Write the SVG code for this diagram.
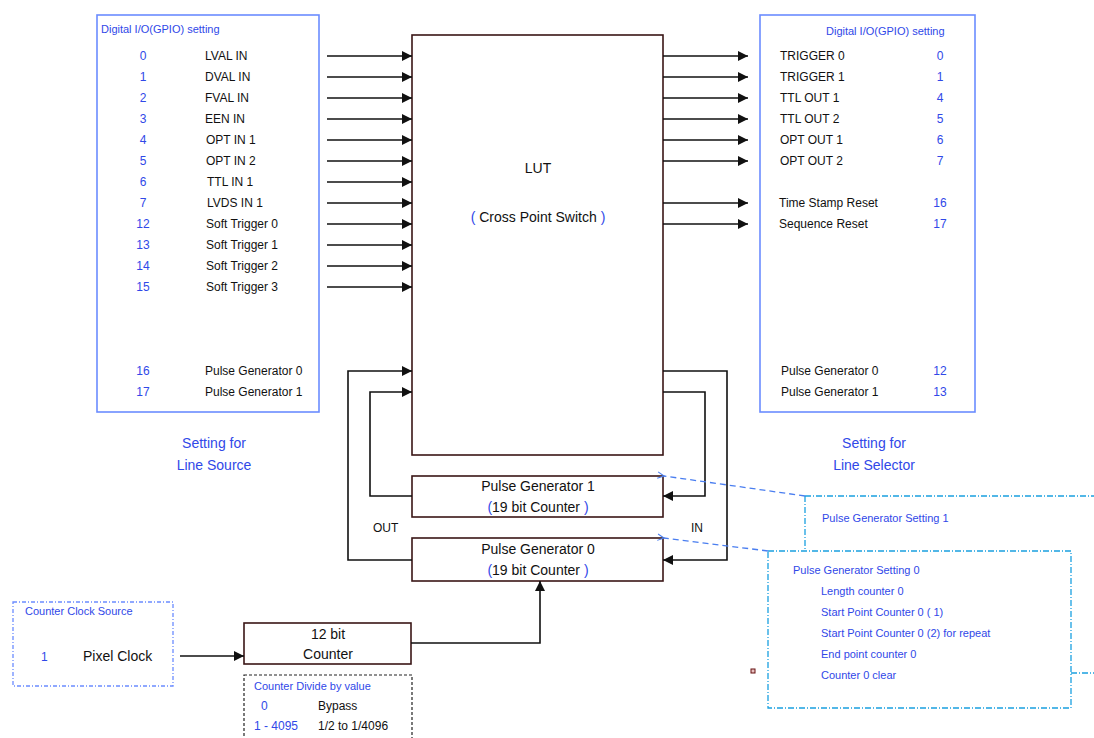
<svg xmlns="http://www.w3.org/2000/svg" width="1094" height="738" viewBox="0 0 1094 738">
<defs>
<style>
text{font-family:"Liberation Sans",Arial,sans-serif;}
.t{font-size:12px;fill:#111;}
.b{font-size:12px;fill:#3048e8;}
.bs{font-size:11px;fill:#3048e8;}
.c{text-anchor:middle;}
.lg{font-size:14px;fill:#3048e8;text-anchor:middle;}
.big{font-size:14px;fill:#111;text-anchor:middle;}
.blk{fill:#fff;stroke:#3a1616;stroke-width:1.6;}
.gp{fill:#fff;stroke:#6b8cff;stroke-width:1.6;}
.ln{fill:none;stroke:#111;stroke-width:1.6;}
.dd{fill:none;stroke:#1aa0e0;stroke-width:1.3;stroke-dasharray:6,2,1,2;}
.dsh{fill:none;stroke:#4a7ef0;stroke-width:1.3;stroke-dasharray:6,4;}
</style>
<marker id="ah" viewBox="0 0 10 10" refX="10" refY="5" markerWidth="15" markerHeight="10" markerUnits="userSpaceOnUse" orient="auto"><path d="M0,0 L10,5 L0,10 z" fill="#111"/></marker>
<marker id="oh" viewBox="0 0 10 10" refX="1" refY="5" markerWidth="8" markerHeight="8" markerUnits="userSpaceOnUse" orient="auto"><path d="M9,1 L1,5 L9,9" fill="none" stroke="#4a7ef0" stroke-width="1.3"/></marker>
</defs>
<rect width="1094" height="738" fill="#fff"/>

<g id="line-source">
<rect class="gp" x="97" y="15" width="222" height="397"/>
<text class="bs" x="101" y="33">Digital I/O(GPIO) setting</text>
<g class="b c">
<text x="143" y="60">0</text><text x="143" y="81">1</text><text x="143" y="102">2</text><text x="143" y="123">3</text>
<text x="143" y="144">4</text><text x="143" y="165">5</text><text x="143" y="186">6</text><text x="143" y="207">7</text>
<text x="143" y="228">12</text><text x="143" y="249">13</text><text x="143" y="270">14</text><text x="143" y="291">15</text>
<text x="143" y="375">16</text><text x="143" y="396">17</text>
</g>
<g class="t">
<text x="205" y="60">LVAL IN</text><text x="205" y="81">DVAL IN</text><text x="205" y="102">FVAL IN</text><text x="205" y="123">EEN IN</text>
<text x="206" y="144">OPT IN 1</text><text x="206" y="165">OPT IN 2</text><text x="207" y="186">TTL IN 1</text><text x="207" y="207">LVDS IN 1</text>
<text x="206" y="228">Soft Trigger 0</text><text x="206" y="249">Soft Trigger 1</text><text x="206" y="270">Soft Trigger 2</text><text x="206" y="291">Soft Trigger 3</text>
<text x="205" y="375">Pulse Generator 0</text><text x="205" y="396">Pulse Generator 1</text>
</g>
<text class="lg" x="214" y="448">Setting for</text>
<text class="lg" x="214" y="470">Line Source</text>
</g>

<g id="line-selector">
<rect class="gp" x="760" y="15" width="215" height="397"/>
<text class="bs" x="826" y="35">Digital I/O(GPIO) setting</text>
<g class="t">
<text x="780" y="60">TRIGGER  0</text><text x="780" y="81">TRIGGER  1</text><text x="780" y="102">TTL OUT 1</text><text x="780" y="123">TTL OUT 2</text>
<text x="780" y="144">OPT OUT 1</text><text x="780" y="165">OPT OUT 2</text>
<text x="779" y="207">Time Stamp Reset</text><text x="779" y="228">Sequence Reset</text>
<text x="781" y="375">Pulse Generator 0</text><text x="781" y="396">Pulse Generator 1</text>
</g>
<g class="b c">
<text x="940" y="60">0</text><text x="940" y="81">1</text><text x="940" y="102">4</text><text x="940" y="123">5</text>
<text x="940" y="144">6</text><text x="940" y="165">7</text><text x="940" y="207">16</text><text x="940" y="228">17</text>
<text x="940" y="375">12</text><text x="940" y="396">13</text>
</g>
<text class="lg" x="874" y="448">Setting for</text>
<text class="lg" x="874" y="470">Line Selector</text>
</g>

<g id="lut">
<rect class="blk" x="412" y="35" width="251" height="420"/>
<text class="big" x="538" y="173">LUT</text>
<text class="big" x="538" y="222"><tspan fill="#3048e8">(</tspan> Cross Point Switch <tspan fill="#3048e8">)</tspan></text>
</g>

<g id="pg1">
<rect class="blk" x="412" y="476" width="251" height="41"/>
<text class="big" x="538" y="491">Pulse Generator 1</text>
<text class="big" x="538" y="512"><tspan fill="#3048e8">(</tspan>19 bit Counter  <tspan fill="#3048e8">)</tspan></text>
</g>

<g id="pg0">
<rect class="blk" x="412" y="538" width="251" height="43"/>
<text class="big" x="538" y="554">Pulse Generator 0</text>
<text class="big" x="538" y="575"><tspan fill="#3048e8">(</tspan>19 bit Counter  <tspan fill="#3048e8">)</tspan></text>
</g>

<g id="clock-source">
<rect x="13" y="602" width="160" height="84" fill="#fff" stroke="#6b8cff" stroke-width="1.3" stroke-dasharray="4,2,1,2"/>
<text class="bs" x="25" y="615">Counter Clock Source</text>
<text class="b" x="41" y="661">1</text>
<text x="83" y="661" style="font-size:14px;fill:#111">Pixel Clock</text>
</g>

<g id="counter12">
<rect class="blk" x="244" y="623" width="167" height="41"/>
<text class="big" x="328" y="639">12 bit</text>
<text class="big" x="328" y="659">Counter</text>
</g>

<g id="divide">
<rect x="244" y="675" width="168" height="70" fill="#fff" stroke="#222" stroke-width="1.2" stroke-dasharray="3,2"/>
<text class="bs" x="254" y="690">Counter Divide by value</text>
<text class="b" x="261" y="710">0</text>
<text class="t" x="318" y="710">Bypass</text>
<text class="b" x="254" y="730">1 - 4095</text>
<text class="t" x="318" y="730">1/2 to 1/4096</text>
</g>

<g id="pg-setting-1">
<path class="dd" d="M805,496 H1100 M805,496 V550"/>
<text class="bs" x="822" y="522">Pulse Generator Setting 1</text>
</g>

<g id="pg-setting-0">
<rect class="dd" x="768" y="551" width="303" height="157"/>
<path class="dd" d="M1071,673 H1100"/>
<text class="bs" x="793" y="574">Pulse Generator Setting 0</text>
<text class="bs" x="821" y="595">Length counter 0</text>
<text class="bs" x="821" y="616">Start Point Counter 0 ( 1)</text>
<text class="bs" x="821" y="637">Start Point Counter 0 (2) for repeat</text>
<text class="bs" x="821" y="658">End point counter 0</text>
<text class="bs" x="821" y="679">Counter 0 clear</text>
</g>

<rect x="751" y="669" width="4" height="4" fill="#e8c0c0" stroke="#611" stroke-width="1"/>

<g id="connectors">
<g class="ln" marker-end="url(#ah)">
<path d="M327,56 H412"/><path d="M327,77 H412"/><path d="M327,98 H412"/><path d="M327,119 H412"/>
<path d="M327,140 H412"/><path d="M327,161 H412"/><path d="M327,182 H412"/><path d="M327,203 H412"/>
<path d="M327,224 H412"/><path d="M327,245 H412"/><path d="M327,266 H412"/><path d="M327,287 H412"/>
<path d="M663,56 H748"/><path d="M663,77 H748"/><path d="M663,98 H748"/><path d="M663,119 H748"/>
<path d="M663,140 H748"/><path d="M663,161 H748"/><path d="M663,203 H748"/><path d="M663,224 H748"/>
<path d="M412,560 H348 V371 H412"/>
<path d="M412,496 H370 V392 H412"/>
<path d="M663,371 H727 V560 H663"/>
<path d="M663,392 H705 V496 H663"/>
<path d="M180,656 H244"/>
<path d="M411,643 H540 V581"/>
</g>
<g class="dsh" marker-end="url(#oh)">
<path d="M805,496 L664,476"/>
<path d="M768,551 L664,538"/>
</g>
<text x="373" y="532" style="font-size:12px;fill:#111">OUT</text>
<text x="691" y="532" style="font-size:12px;fill:#111">IN</text>
</g>
</svg>
